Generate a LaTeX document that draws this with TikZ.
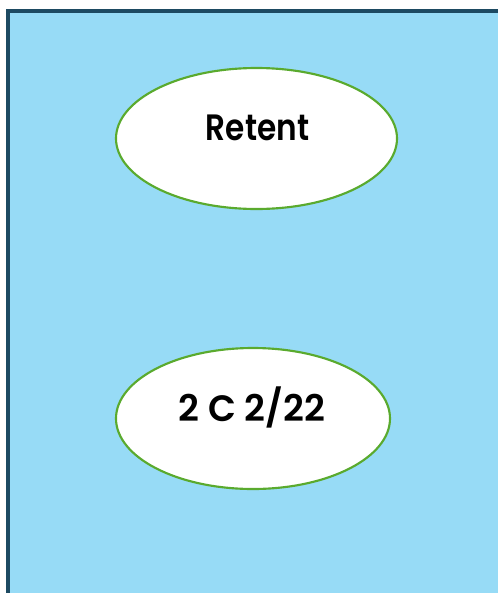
\documentclass[tikz,border=0pt]{standalone}
\usepackage{fontspec}
\setmainfont{Poppins}[BoldFont={Poppins SemiBold}]
\usetikzlibrary{shapes.geometric}
\definecolor{bgblue}{HTML}{97DBF6}
\definecolor{frame}{HTML}{1D4A62}
\definecolor{leaf}{HTML}{5AAA2E}
\tikzset{
  oval/.style={ellipse, draw=leaf, line width=1.6pt, fill=white, inner sep=0pt},
  label text/.style={font=\fontsize{27.5}{30}\selectfont\bfseries, inner sep=0pt}
}
\begin{document}
\begin{tikzpicture}[x=0.75pt,y=-0.75pt]
\useasboundingbox (0,0) rectangle (497,593);
\draw[frame, fill=bgblue, line width=2.4pt] (8,11) rectangle (520,620);
\node[oval, minimum width=281*0.75pt, minimum height=141*0.75pt] (a) at (256.5,138.5) {};
\node[label text] (ta) at (257.5,128) {\scalebox{0.85}[1]{Retent}};
\node[oval, minimum width=274*0.75pt, minimum height=141*0.75pt] (b) at (253,418.5) {};
\node[label text] (tb) at (252,407.5) {\scalebox{0.99}[1]{2 C 2/22}};
\end{tikzpicture}
\end{document}
